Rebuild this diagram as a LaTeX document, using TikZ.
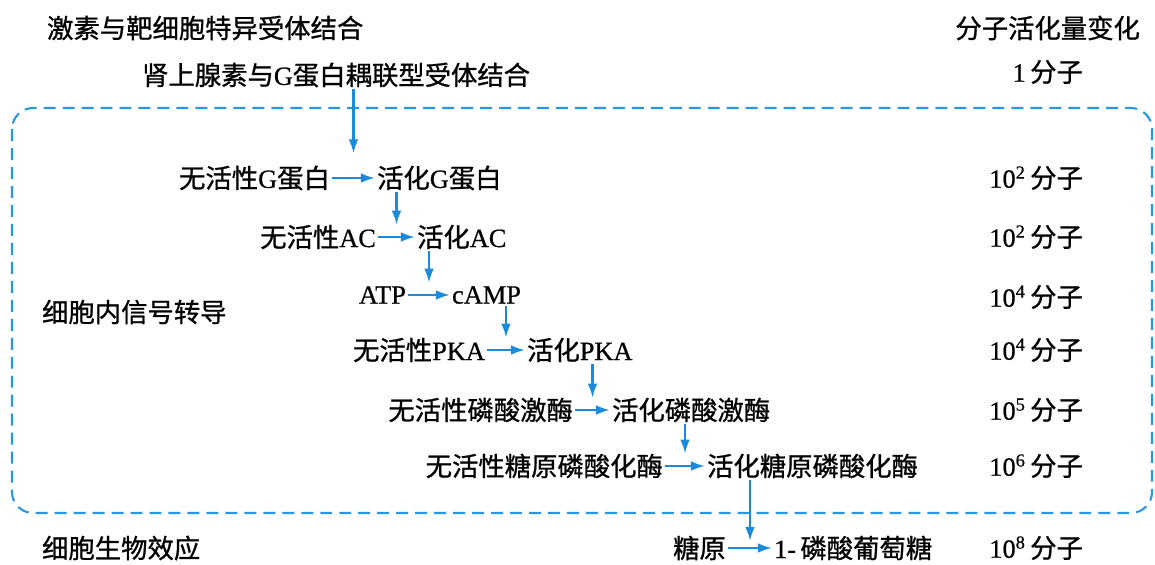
\documentclass[tikz,border=0pt]{standalone}
\usepackage{fontspec}
\setmainfont{Liberation Serif}[FakeBold=0.6]
\newfontfamily\zhfont{Noto Sans CJK SC}[FakeBold=0.9]
\newcommand\zh[1]{{\zhfont#1}}
\usetikzlibrary{arrows.meta}
\definecolor{flowblue}{RGB}{28,138,218}
\definecolor{boxblue}{RGB}{40,150,225}

\begin{document}
\begin{tikzpicture}[x=0.02cm,y=-0.02cm,
  lbl/.style={inner sep=1pt,font=\fontsize{15}{18}\selectfont},
  flow/.style={draw=flowblue,line width=1.3pt,-{Latex[length=8pt,width=5.5pt]}},
  cellbox/.style={draw=boxblue,line width=1.2pt,dash pattern=on 6.8pt off 4pt,rounded corners=12pt}]
  \useasboundingbox (0,0) rectangle (1155,564);

  % --- headings ---
  \node[lbl,anchor=west] (titleL) at (45,28) {\zh{激素与靶细胞特异受体结合}};
  \node[lbl,anchor=east] (titleR) at (1142,28) {\zh{分子活化量变化}};
  \node[lbl,anchor=west] (hormone) at (140,75) {\zh{肾上腺素与}G\zh{蛋白耦联型受体结合}};
  \node[lbl,anchor=east] (one) at (1085,72) {1\,\zh{分子}};

  % --- dashed frame (cell interior) ---
  \draw[cellbox] (12,108) rectangle (1152,513);
  \node[lbl,anchor=west] (signal) at (40,312) {\zh{细胞内信号转导}};
  \node[lbl,anchor=west] (effect) at (40,548) {\zh{细胞生物效应}};

  % --- cascade rows ---
  \node[lbl,anchor=east] (gIn)    at (332,178) {\zh{无活性}G\zh{蛋白}};
  \node[lbl,anchor=west] (gAct)   at (375,178) {\zh{活化}G\zh{蛋白}};
  \node[lbl,anchor=east] (acIn)   at (378,237) {\zh{无活性}AC};
  \node[lbl,anchor=west] (acAct)  at (415,237) {\zh{活化}AC};
  \node[lbl,anchor=east] (atp)    at (408,295) {ATP};
  \node[lbl,anchor=west] (camp)   at (450,295) {cAMP};
  \node[lbl,anchor=east] (pkaIn)  at (487,350) {\zh{无活性}PKA};
  \node[lbl,anchor=west] (pkaAct) at (525,350) {\zh{活化}PKA};
  \node[lbl,anchor=east] (kinIn)  at (575,410) {\zh{无活性磷酸激酶}};
  \node[lbl,anchor=west] (kinAct) at (610,410) {\zh{活化磷酸激酶}};
  \node[lbl,anchor=east] (phIn)   at (665,466) {\zh{无活性糖原磷酸化酶}};
  \node[lbl,anchor=west] (phAct)  at (705,466) {\zh{活化糖原磷酸化酶}};
  \node[lbl,anchor=east] (glyc)   at (728,548) {\zh{糖原}};
  \node[lbl,anchor=west] (gop)    at (772,548) {1-\,\zh{磷酸葡萄糖}};

  % --- horizontal steps, midpoints kept for the drops ---
  \foreach \a/\b/\m in {gIn/gAct/m1,acIn/acAct/m2,atp/camp/m3,pkaIn/pkaAct/m4,
                        kinIn/kinAct/m5,phIn/phAct/m6,glyc/gop/m7} {
    \draw[flow] (\a) -- (\b) coordinate[pos=0.5] (\m);
  }

  % --- vertical drops ---
  \draw[flow] (hormone.south -| m1) -- ([yshift=14pt]m1);
  \draw[flow] (gAct.south -| m2) -- ([yshift=7pt]m2);
  \draw[flow] (acAct.south -| m3) -- ([yshift=7pt]m3);
  \draw[flow] (camp.south -| m4) -- ([yshift=7pt]m4);
  \draw[flow] (pkaAct.south -| m5) -- ([yshift=7pt]m5);
  \draw[flow] (kinAct.south -| m6) -- ([yshift=7pt]m6);
  \draw[flow] (phAct.south -| m7) -- ([yshift=4pt]m7);

  % --- molecule counts ---
  \foreach \y/\e [count=\k] in {178/2,237/2,297/4,350/4,410/5,466/6,548/8} {
    \node[lbl,anchor=east] (cnt\k) at (1085,\y) {10\textsuperscript{\e}\,\zh{分子}};
  }
\end{tikzpicture}
\end{document}
